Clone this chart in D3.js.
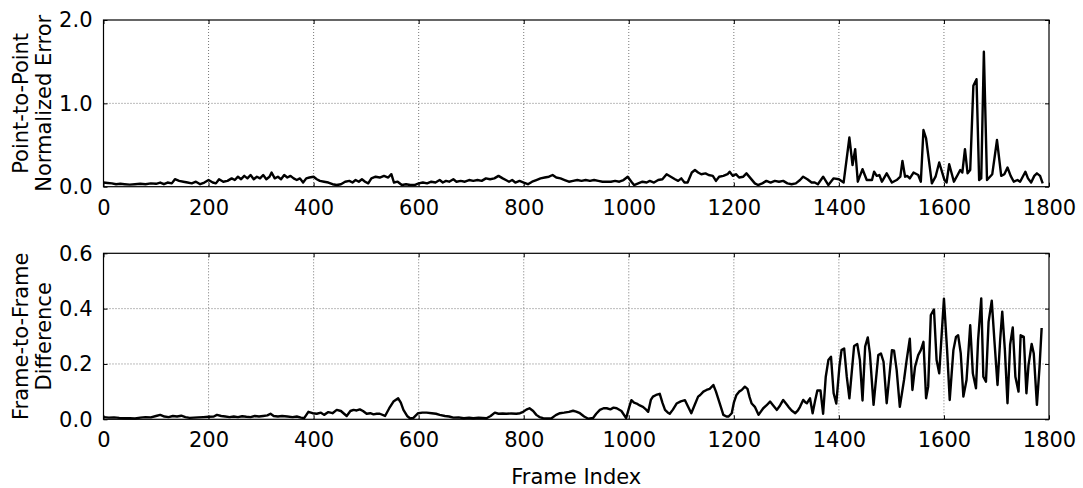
<!DOCTYPE html>
<html>
<head>
<meta charset="utf-8">
<script src="https://cdn.jsdelivr.net/npm/d3@7"></script>
<style>
  html, body { margin: 0; padding: 0; background: #fff; }
  svg { display: block; }
  text { font-family: "DejaVu Sans", sans-serif; fill: #000; }
</style>
</head>
<body>
<svg id="chart" width="1083" height="488"></svg>
<script>
// ---- data ----
const xTicks = [0, 200, 400, 600, 800, 1000, 1200, 1400, 1600, 1800];
const topYTicks = [0.0, 1.0, 2.0];
const bottomYTicks = [0.0, 0.2, 0.4, 0.6];
const topYLabel = ["Point-to-Point", "Normalized Error"];
const bottomYLabel = ["Frame-to-Frame", "Difference"];
const xLabel = "Frame Index";

const topFrames = [0,8,16,24,32,40,50,60,70,80,90,100,108,115,122,130,136,144,152,160,168,176,184,192,200,208,214,220,228,236,244,250,256,262,268,274,280,286,292,298,304,310,316,320,326,332,338,344,350,356,362,368,374,380,386,392,400,406,412,420,428,436,444,452,460,468,474,480,486,492,498,504,510,518,526,534,542,548,553,560,568,576,584,592,600,608,616,624,632,640,646,652,658,666,672,680,688,696,704,712,720,728,736,744,752,760,766,772,778,784,792,800,808,816,824,832,840,848,855,862,870,878,886,894,902,910,918,926,934,942,950,958,966,974,982,990,998,1005,1010,1018,1026,1034,1040,1048,1056,1064,1072,1080,1088,1094,1100,1106,1112,1120,1126,1132,1138,1146,1152,1160,1166,1172,1180,1188,1192,1198,1204,1210,1218,1224,1232,1240,1246,1254,1262,1270,1278,1286,1294,1302,1310,1318,1326,1332,1340,1348,1354,1360,1370,1380,1390,1400,1409,1420,1426,1431,1436,1445,1453,1463,1467,1472,1477,1482,1491,1501,1510,1517,1521,1526,1530,1535,1542,1551,1556,1561,1566,1577,1584,1591,1601,1605,1610,1619,1626,1631,1635,1640,1645,1650,1656,1662,1667,1671,1676,1682,1692,1701,1709,1715,1721,1727,1733,1740,1745,1755,1760,1766,1772,1777,1783,1788];
const topValues = [0.05,0.045,0.04,0.03,0.035,0.03,0.025,0.03,0.035,0.03,0.04,0.035,0.05,0.03,0.05,0.04,0.09,0.07,0.06,0.05,0.04,0.06,0.03,0.05,0.08,0.05,0.04,0.09,0.06,0.07,0.1,0.08,0.12,0.09,0.13,0.1,0.14,0.09,0.12,0.1,0.14,0.09,0.12,0.17,0.1,0.12,0.09,0.14,0.11,0.13,0.1,0.08,0.1,0.05,0.1,0.11,0.12,0.09,0.07,0.06,0.05,0.03,0.02,0.03,0.06,0.07,0.05,0.08,0.06,0.09,0.06,0.04,0.1,0.12,0.11,0.13,0.11,0.15,0.05,0.06,0.02,0.03,0.02,0.02,0.04,0.05,0.04,0.06,0.05,0.08,0.05,0.07,0.06,0.09,0.06,0.07,0.06,0.08,0.07,0.08,0.07,0.1,0.09,0.1,0.13,0.1,0.08,0.06,0.08,0.05,0.07,0.05,0.03,0.06,0.08,0.1,0.11,0.12,0.14,0.11,0.1,0.08,0.06,0.07,0.08,0.07,0.08,0.07,0.08,0.07,0.06,0.06,0.06,0.07,0.06,0.08,0.12,0.06,0.02,0.04,0.06,0.05,0.07,0.05,0.08,0.09,0.15,0.12,0.09,0.07,0.1,0.05,0.05,0.17,0.2,0.17,0.15,0.16,0.14,0.13,0.07,0.12,0.13,0.15,0.18,0.13,0.15,0.11,0.12,0.16,0.1,0.04,0.02,0.04,0.07,0.05,0.07,0.06,0.07,0.04,0.03,0.04,0.08,0.12,0.09,0.05,0.05,0.03,0.12,0.02,0.1,0.09,0.05,0.59,0.26,0.45,0.06,0.21,0.08,0.08,0.18,0.13,0.14,0.06,0.16,0.05,0.08,0.12,0.31,0.12,0.13,0.1,0.17,0.14,0.06,0.68,0.58,0.04,0.12,0.29,0.08,0.05,0.27,0.06,0.14,0.2,0.17,0.45,0.16,0.2,1.21,1.29,0.08,0.1,1.62,0.08,0.15,0.56,0.13,0.15,0.23,0.13,0.06,0.08,0.06,0.18,0.1,0.05,0.13,0.16,0.13,0.04];

const bottomFrames = [0,10,20,30,40,50,60,70,80,90,100,108,116,124,132,140,148,156,164,172,180,190,200,210,216,224,232,240,248,256,264,272,280,288,296,304,312,318,324,332,340,350,360,368,376,382,390,398,406,414,420,428,436,444,452,458,463,470,476,482,488,494,501,508,514,520,526,536,544,552,561,566,571,578,584,590,599,607,615,625,633,640,650,658,666,676,686,696,704,714,722,729,737,745,752,760,767,776,786,793,799,805,811,818,824,830,837,845,853,861,869,877,886,894,900,907,915,923,932,938,945,952,958,965,971,977,986,995,1001,1005,1010,1015,1021,1027,1033,1037,1042,1046,1052,1059,1064,1069,1074,1078,1084,1091,1099,1107,1113,1119,1125,1132,1136,1142,1148,1154,1161,1166,1171,1176,1180,1186,1190,1196,1200,1205,1210,1215,1221,1226,1230,1234,1240,1247,1256,1262,1269,1275,1282,1288,1294,1300,1304,1310,1317,1322,1326,1332,1336,1339,1345,1350,1355,1359,1365,1370,1375,1380,1385,1390,1395,1401,1405,1410,1415,1420,1429,1435,1440,1445,1450,1455,1459,1466,1475,1480,1485,1491,1501,1505,1510,1516,1524,1529,1535,1540,1545,1551,1556,1561,1566,1570,1575,1581,1586,1591,1595,1600,1606,1611,1618,1623,1627,1632,1637,1643,1650,1655,1661,1665,1671,1675,1680,1685,1691,1696,1702,1707,1711,1716,1721,1726,1731,1736,1742,1746,1752,1757,1761,1767,1771,1777,1782,1786];
const bottomValues = [0.008,0.006,0.007,0.005,0.004,0.004,0.003,0.006,0.008,0.007,0.012,0.016,0.01,0.008,0.012,0.01,0.013,0.008,0.005,0.006,0.007,0.008,0.009,0.01,0.016,0.012,0.01,0.008,0.01,0.008,0.011,0.009,0.008,0.012,0.01,0.012,0.014,0.02,0.012,0.01,0.012,0.01,0.008,0.01,0.006,0.004,0.027,0.022,0.02,0.024,0.016,0.026,0.022,0.034,0.03,0.02,0.012,0.03,0.034,0.032,0.036,0.03,0.02,0.022,0.018,0.02,0.02,0.012,0.04,0.064,0.076,0.06,0.034,0.012,0.003,0.005,0.022,0.024,0.024,0.022,0.02,0.016,0.012,0.01,0.006,0.007,0.004,0.006,0.004,0.006,0.005,0.004,0.012,0.024,0.02,0.021,0.02,0.021,0.02,0.022,0.027,0.035,0.04,0.03,0.016,0.008,0.004,0.003,0.004,0.015,0.022,0.024,0.027,0.031,0.028,0.022,0.01,0.002,0.005,0.02,0.034,0.04,0.04,0.036,0.042,0.04,0.03,0.004,0.045,0.069,0.06,0.057,0.05,0.045,0.035,0.027,0.07,0.082,0.088,0.092,0.06,0.034,0.025,0.02,0.035,0.057,0.065,0.069,0.045,0.022,0.05,0.082,0.088,0.1,0.106,0.11,0.124,0.1,0.07,0.04,0.016,0.01,0.01,0.022,0.06,0.088,0.1,0.106,0.118,0.11,0.08,0.057,0.045,0.016,0.04,0.05,0.064,0.05,0.034,0.05,0.07,0.055,0.045,0.032,0.022,0.032,0.045,0.07,0.062,0.058,0.076,0.022,0.07,0.104,0.104,0.02,0.154,0.214,0.226,0.094,0.057,0.19,0.25,0.256,0.154,0.076,0.265,0.272,0.214,0.068,0.263,0.296,0.238,0.052,0.232,0.238,0.208,0.058,0.25,0.248,0.178,0.045,0.142,0.214,0.291,0.106,0.19,0.232,0.25,0.28,0.076,0.118,0.377,0.397,0.214,0.166,0.286,0.436,0.25,0.07,0.25,0.298,0.304,0.238,0.082,0.142,0.34,0.166,0.112,0.286,0.437,0.154,0.136,0.352,0.429,0.286,0.124,0.286,0.389,0.25,0.058,0.27,0.332,0.154,0.1,0.304,0.298,0.094,0.196,0.272,0.238,0.052,0.19,0.33];

// ---- layout ----
const svg = d3.select("#chart");
const plotLeft = 103.5, plotRight = 1049;
const panels = [
  { top: 20, bottom: 186.7, domain: [0, 2], ticks: topYTicks, fmt: d3.format(".1f"),
    frames: topFrames, values: topValues, label: topYLabel },
  { top: 253.3, bottom: 419.3, domain: [0, 0.6], ticks: bottomYTicks, fmt: d3.format(".1f"),
    frames: bottomFrames, values: bottomValues, label: bottomYLabel }
];
const x = d3.scaleLinear().domain([0, 1800]).range([plotLeft, plotRight]);
const FS = 21;

panels.forEach(p => {
  const y = d3.scaleLinear().domain(p.domain).range([p.bottom, p.top]);
  const g = svg.append("g");

  // grid
  g.append("g").selectAll("line.vg").data(xTicks.slice(1, -1)).join("line")
    .attr("x1", d => x(d)).attr("x2", d => x(d))
    .attr("y1", p.top).attr("y2", p.bottom)
    .attr("stroke", "#555").attr("stroke-width", 0.8).attr("stroke-dasharray", "1,2");
  g.append("g").selectAll("line.hg").data(p.ticks.slice(1, -1)).join("line")
    .attr("x1", plotLeft).attr("x2", plotRight)
    .attr("y1", d => y(d)).attr("y2", d => y(d))
    .attr("stroke", "#555").attr("stroke-width", 0.8).attr("stroke-dasharray", "1,2");

  // line
  const pts = p.frames.map((f, i) => [f, p.values[i]]);
  g.append("path").datum(pts)
    .attr("fill", "none").attr("stroke", "#000").attr("stroke-width", 2.4)
    .attr("stroke-linejoin", "round")
    .attr("d", d3.line().x(d => x(d[0])).y(d => y(d[1])));

  // axes (inward ticks, matplotlib classic)
  const xb = g.append("g").attr("transform", `translate(0,${p.bottom})`)
    .call(d3.axisBottom(x).tickValues(xTicks).tickSize(-4).tickPadding(13).tickFormat(d3.format("d")));
  const xt = g.append("g").attr("transform", `translate(0,${p.top})`)
    .call(d3.axisTop(x).tickValues(xTicks).tickSize(-4).tickFormat(""));
  const yl = g.append("g").attr("transform", `translate(${plotLeft},0)`)
    .call(d3.axisLeft(y).tickValues(p.ticks).tickSize(-4).tickPadding(11).tickFormat(p.fmt));
  const yr = g.append("g").attr("transform", `translate(${plotRight},0)`)
    .call(d3.axisRight(y).tickValues(p.ticks).tickSize(-4).tickFormat(""));
  [xb, xt, yl, yr].forEach(a => {
    a.select(".domain").remove();
    a.selectAll("line").attr("stroke", "#000").attr("stroke-width", 1);
    a.selectAll("text").attr("font-family", "DejaVu Sans").attr("font-size", FS).attr("fill", "#000");
  });

  // frame
  g.append("rect").attr("x", plotLeft).attr("y", p.top)
    .attr("width", plotRight - plotLeft).attr("height", p.bottom - p.top)
    .attr("fill", "none").attr("stroke", "#000").attr("stroke-width", 1.2);

  // y label (two lines)
  const cy = (p.top + p.bottom) / 2;
  const lab = g.append("text")
    .attr("transform", `translate(28,${cy}) rotate(-90)`)
    .attr("text-anchor", "middle").attr("font-size", FS);
  p.label.forEach((t, i) => {
    lab.append("tspan").attr("x", 0).attr("dy", i === 0 ? 0 : 23).text(t);
  });
});

svg.append("text").attr("x", (plotLeft + plotRight) / 2).attr("y", 484)
  .attr("text-anchor", "middle").attr("font-size", FS).text(xLabel);
</script>
</body>
</html>
